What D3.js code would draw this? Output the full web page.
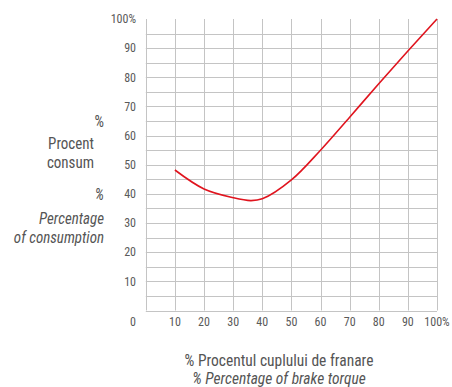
<!DOCTYPE html>
<html><head><meta charset="utf-8">
<script src="https://cdn.jsdelivr.net/npm/d3@7/dist/d3.min.js"></script>
<style>
body{margin:0;background:#fff;}
text{font-family:"Liberation Sans Narrow","Roboto Condensed","DejaVu Sans Condensed",sans-serif;}
</style></head><body>
<svg id="c" width="452" height="387"></svg>
<script>
const torque = [10, 20, 30, 36, 40, 50, 60, 70, 80, 90, 100];
const consumption = [48.2, 41.7, 38.7, 37.7, 38.3, 44.8, 55, 66.3, 77.8, 89, 100];
const xTicks = [10, 20, 30, 40, 50, 60, 70, 80, 90, 100];
const yTicks = [10, 20, 30, 40, 50, 60, 70, 80, 90, 100];
const yLabel = ["%", "Procent", "consum"];
const yLabelEn = ["%", "Percentage", "of consumption"];
const xLabel = "% Procentul cuplului de franare";
const xLabelEn = "% Percentage of brake torque";

const svg = d3.select("#c");
const x = d3.scaleLinear().domain([0, 100]).range([145.8, 437]);
const y = d3.scaleLinear().domain([0, 100]).range([310.5, 19]);
const grid = "#c4c4c4";
const tc = "#5a5a5a";

const g = svg.append("g");
g.selectAll("line.h").data(d3.range(5, 100, 5)).join("line")
  .attr("x1", x(0)).attr("x2", x(100)).attr("y1", d => Math.round(y(d)) + 0.5).attr("y2", d => Math.round(y(d)) + 0.5)
  .attr("stroke", grid).attr("stroke-width", 1);
g.selectAll("line.v").data(d3.range(0, 101, 10)).join("line")
  .attr("x1", d => Math.round(x(d)) + 0.5).attr("x2", d => Math.round(x(d)) + 0.5)
  .attr("y1", y(100)).attr("y2", y(0))
  .attr("stroke", grid).attr("stroke-width", 1);
g.append("line").attr("x1", x(0)).attr("x2", x(100)).attr("y1", Math.round(y(0)) + 0.5).attr("y2", Math.round(y(0)) + 0.5)
  .attr("stroke", grid).attr("stroke-width", 1);

svg.selectAll("text.yt").data(yTicks).join("text")
  .attr("x", 136).attr("y", d => y(d)).attr("dy", "0.35em")
  .attr("text-anchor", "end").attr("font-size", 12).attr("fill", tc)
  .text(d => d === 100 ? "100%" : d);
svg.selectAll("text.xt").data([0].concat(xTicks)).join("text")
  .attr("x", d => d === 0 ? 133 : x(d)).attr("y", 326)
  .attr("text-anchor", "middle").attr("font-size", 12).attr("fill", tc)
  .text(d => d === 100 ? "100%" : d);

const line = d3.line().x((d, i) => x(torque[i])).y(d => y(d)).curve(d3.curveCatmullRom.alpha(0.5));
svg.append("path").datum(consumption).attr("d", line)
  .attr("fill", "none").attr("stroke", "#e0141e").attr("stroke-width", 1.6);

const lc = "#555";
function label(tx, ty, txt, italic, size, sy, anchor) {
  svg.append("text").attr("transform", `translate(${tx},${ty}) scale(1,${sy})`)
    .attr("text-anchor", anchor).attr("font-size", size)
    .attr("font-style", italic ? "italic" : "normal").attr("fill", lc).text(txt);
}
label(104, 126.5, yLabel[0], false, 15, 1.15, "end");
label(94, 149, yLabel[1], false, 15, 1.15, "end");
label(94, 168, yLabel[2], false, 15, 1.15, "end");
label(104, 199.5, yLabelEn[0], true, 15, 1.15, "end");
label(104, 224, yLabelEn[1], true, 15, 1.15, "end");
label(104, 243, yLabelEn[2], true, 15, 1.15, "end");
label(279, 366, xLabel, false, 15.5, 1.1, "middle");
label(279, 384, xLabelEn, true, 15.5, 1.1, "middle");
</script></body></html>
